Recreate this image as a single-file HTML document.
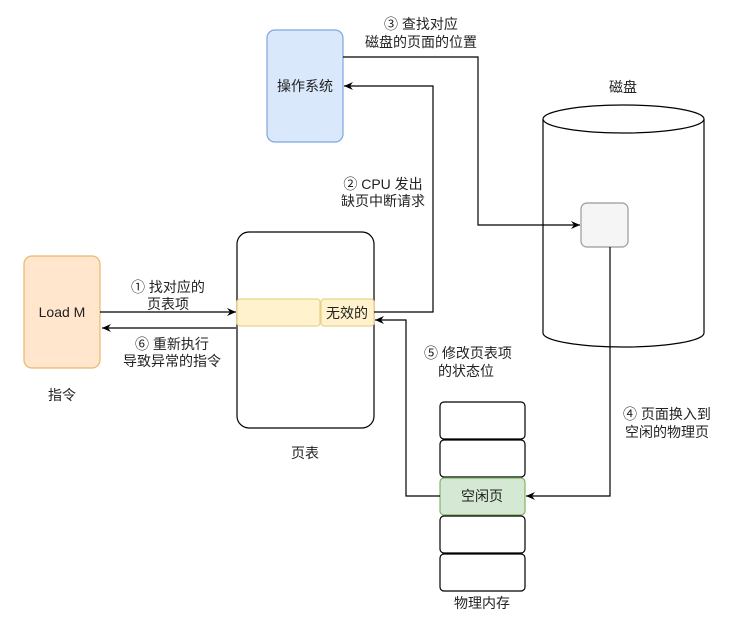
<!DOCTYPE html>
<html><head><meta charset="utf-8"><style>
body{margin:0;background:#fff;}
svg text{font-family:"Liberation Sans","Noto Sans CJK SC",sans-serif;font-size:14px;fill:#222;}
</style></head><body>
<svg width="753" height="619" viewBox="0 0 753 619" xmlns="http://www.w3.org/2000/svg">
<defs><marker id="a" markerWidth="10" markerHeight="10" refX="9" refY="5" orient="auto" markerUnits="userSpaceOnUse"><path d="M0,1 L9,5 L0,9 L3,5 Z" fill="#000"/></marker></defs>
<g fill="none" stroke="#000" stroke-width="1.2">
<rect x="267" y="30" width="76" height="112" rx="8" fill="#dae8fc" stroke="#7ea6e0"/>
<rect x="24" y="256" width="76" height="112" rx="8" fill="#ffe6cc" stroke="#e8b86d"/>
<rect x="237" y="232" width="137" height="196" rx="12" fill="#fff"/>
<rect x="237" y="299" width="83" height="27" rx="3" fill="#fff2cc" stroke="#e8d28a"/>
<rect x="321" y="299" width="53" height="27" rx="3" fill="#fff2cc" stroke="#e8d28a"/>
<path d="M543,119 L543,333 A80.5,14 0 0 0 704,333 L704,119" fill="#fff"/>
<ellipse cx="623.5" cy="119" rx="80.5" ry="14" fill="#fff"/>
<rect x="581" y="203" width="47" height="44" rx="6" fill="#f5f5f5" stroke="#999"/>
<rect x="440" y="402" width="85" height="37" rx="4" fill="#fff"/>
<rect x="440" y="440" width="85" height="37" rx="4" fill="#fff"/>
<rect x="440" y="478" width="85" height="37" rx="4" fill="#d5e8d4" stroke="#82b366"/>
<rect x="440" y="516" width="85" height="37" rx="4" fill="#fff"/>
<rect x="440" y="554" width="85" height="37" rx="4" fill="#fff"/>
<path d="M100,312 L236,312" marker-end="url(#a)"/>
<path d="M236,328 L102,328" marker-end="url(#a)"/>
<path d="M374,312 L433,312 L433,86 L344,86" marker-end="url(#a)"/>
<path d="M343,57 L478,57 L478,225 L580,225" marker-end="url(#a)"/>
<path d="M610,247 L610,496 L526,496" marker-end="url(#a)"/>
<path d="M440,496 L406,496 L406,320 L375,320" marker-end="url(#a)"/>
</g>
<text x="305" y="91" text-anchor="middle">操作系统</text>
<text x="62" y="317" text-anchor="middle">Load M</text>
<text x="62" y="400" text-anchor="middle">指令</text>
<text x="347" y="318" text-anchor="middle">无效的</text>
<text x="305" y="458" text-anchor="middle">页表</text>
<text x="623" y="92" text-anchor="middle">磁盘</text>
<text x="482" y="501" text-anchor="middle">空闲页</text>
<text x="482" y="608" text-anchor="middle">物理内存</text>
<text x="168" y="292" text-anchor="middle">① 找对应的</text>
<text x="168" y="309" text-anchor="middle">页表项</text>
<text x="172" y="349" text-anchor="middle">⑥ 重新执行</text>
<text x="172" y="366" text-anchor="middle">导致异常的指令</text>
<text x="421" y="29" text-anchor="middle">③ 查找对应</text>
<text x="421" y="47" text-anchor="middle">磁盘的页面的位置</text>
<text x="383" y="189" text-anchor="middle">② CPU 发出</text>
<text x="383" y="206" text-anchor="middle">缺页中断请求</text>
<text x="468" y="358" text-anchor="middle">⑤ 修改页表项</text>
<text x="466" y="376" text-anchor="middle">的状态位</text>
<text x="667" y="419" text-anchor="middle">④ 页面换入到</text>
<text x="667" y="437" text-anchor="middle">空闲的物理页</text>
</svg>
</body></html>
